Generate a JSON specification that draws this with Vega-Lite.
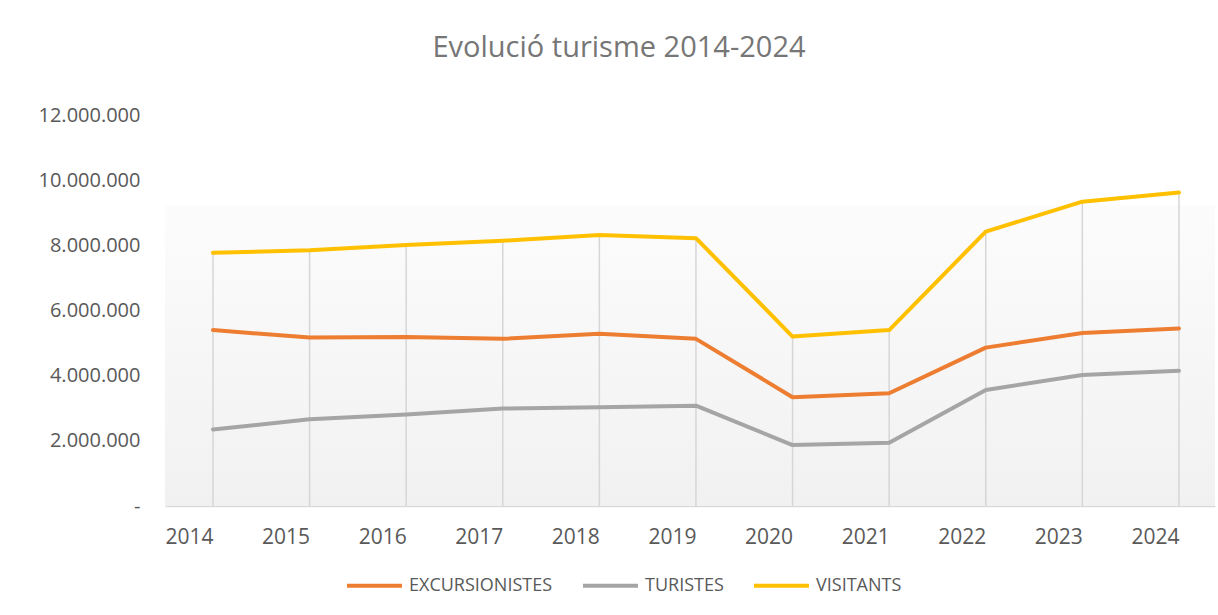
{
  "$schema": "https://vega.github.io/schema/vega-lite/v6.json",
  "width": 1050,
  "height": 391,
  "autosize": {"type": "none"},
  "padding": {"left": 165, "top": 115, "right": 3, "bottom": 109},
  "background": "#ffffff",
  "title": {
    "text": "Evolució turisme 2014-2024",
    "font": "Open Sans",
    "fontSize": 29,
    "fontWeight": 400,
    "color": "#767676",
    "anchor": "middle",
    "dx": -71,
    "baseline": "alphabetic",
    "offset": 19
  },
  "config": {
    "font": "Open Sans",
    "view": {"stroke": null},
    "locale": {"number": {"decimal": ",", "thousands": ".", "grouping": [3], "currency": ["", " €"]}}
  },
  "data": {
    "values": [
      {"year": "2014", "series": "EXCURSIONISTES", "value": 5400000},
      {"year": "2015", "series": "EXCURSIONISTES", "value": 5170000},
      {"year": "2016", "series": "EXCURSIONISTES", "value": 5190000},
      {"year": "2017", "series": "EXCURSIONISTES", "value": 5130000},
      {"year": "2018", "series": "EXCURSIONISTES", "value": 5290000},
      {"year": "2019", "series": "EXCURSIONISTES", "value": 5130000},
      {"year": "2020", "series": "EXCURSIONISTES", "value": 3340000},
      {"year": "2021", "series": "EXCURSIONISTES", "value": 3460000},
      {"year": "2022", "series": "EXCURSIONISTES", "value": 4860000},
      {"year": "2023", "series": "EXCURSIONISTES", "value": 5310000},
      {"year": "2024", "series": "EXCURSIONISTES", "value": 5450000},
      {"year": "2014", "series": "TURISTES", "value": 2350000},
      {"year": "2015", "series": "TURISTES", "value": 2660000},
      {"year": "2016", "series": "TURISTES", "value": 2810000},
      {"year": "2017", "series": "TURISTES", "value": 2990000},
      {"year": "2018", "series": "TURISTES", "value": 3030000},
      {"year": "2019", "series": "TURISTES", "value": 3080000},
      {"year": "2020", "series": "TURISTES", "value": 1870000},
      {"year": "2021", "series": "TURISTES", "value": 1940000},
      {"year": "2022", "series": "TURISTES", "value": 3560000},
      {"year": "2023", "series": "TURISTES", "value": 4020000},
      {"year": "2024", "series": "TURISTES", "value": 4150000},
      {"year": "2014", "series": "VISITANTS", "value": 7770000},
      {"year": "2015", "series": "VISITANTS", "value": 7850000},
      {"year": "2016", "series": "VISITANTS", "value": 8010000},
      {"year": "2017", "series": "VISITANTS", "value": 8140000},
      {"year": "2018", "series": "VISITANTS", "value": 8320000},
      {"year": "2019", "series": "VISITANTS", "value": 8220000},
      {"year": "2020", "series": "VISITANTS", "value": 5200000},
      {"year": "2021", "series": "VISITANTS", "value": 5400000},
      {"year": "2022", "series": "VISITANTS", "value": 8420000},
      {"year": "2023", "series": "VISITANTS", "value": 9340000},
      {"year": "2024", "series": "VISITANTS", "value": 9620000}
    ]
  },
  "layer": [
    {
      "data": {"values": [{"band": "fondo"}]},
      "mark": {
        "type": "rect",
        "color": {
          "gradient": "linear",
          "x1": 0, "y1": 0, "x2": 0, "y2": 1,
          "stops": [
            {"offset": 0, "color": "#fcfcfc"},
            {"offset": 1, "color": "#f1f1f1"}
          ]
        }
      },
      "encoding": {
        "y": {"datum": 9240000, "type": "quantitative"},
        "y2": {"datum": 0}
      }
    },
    {
      "transform": [{"filter": "datum.series == 'VISITANTS'"}],
      "mark": {"type": "rule", "color": "#d6d6d6", "strokeWidth": 1.5},
      "encoding": {
        "x": {"field": "year", "type": "ordinal"},
        "y": {"field": "value", "type": "quantitative"},
        "y2": {"datum": 0}
      }
    },
    {
      "mark": {"type": "line", "strokeWidth": 4, "strokeCap": "round", "strokeJoin": "round"},
      "encoding": {
        "x": {
          "field": "year",
          "type": "ordinal",
          "scale": {"type": "point", "padding": 0.4348, "align": 0.571},
          "axis": {
            "title": null,
            "labelAngle": 0,
            "labelFontSize": 21,
            "labelColor": "#595959",
            "labelPadding": 31,
            "ticks": false,
            "domainColor": "#d9d9d9",
            "domainWidth": 1.5,
            "grid": false
          }
        },
        "y": {
          "field": "value",
          "type": "quantitative",
          "scale": {"domain": [0, 12000000], "nice": false},
          "axis": {
            "title": null,
            "values": [0, 2000000, 4000000, 6000000, 8000000, 10000000, 12000000],
            "format": ",d",
            "labelExpr": "datum.value == 0 ? '-  ' : datum.label",
            "labelFontSize": 20,
            "labelColor": "#595959",
            "labelPadding": 25,
            "ticks": false,
            "domain": false,
            "grid": false
          }
        },
        "color": {
          "field": "series",
          "type": "nominal",
          "scale": {
            "domain": ["EXCURSIONISTES", "TURISTES", "VISITANTS"],
            "range": ["#ED7D31", "#A5A5A5", "#FFC000"]
          },
          "legend": {
            "title": null,
            "orient": "none",
            "direction": "horizontal",
            "legendX": 180,
            "legendY": 441,
            "symbolType": "stroke",
            "symbolSize": 3025,
            "symbolStrokeWidth": 4,
            "labelFontSize": 18,
            "labelColor": "#595959",
            "labelOffset": 5,
            "columnPadding": 22
          }
        }
      }
    }
  ]
}
